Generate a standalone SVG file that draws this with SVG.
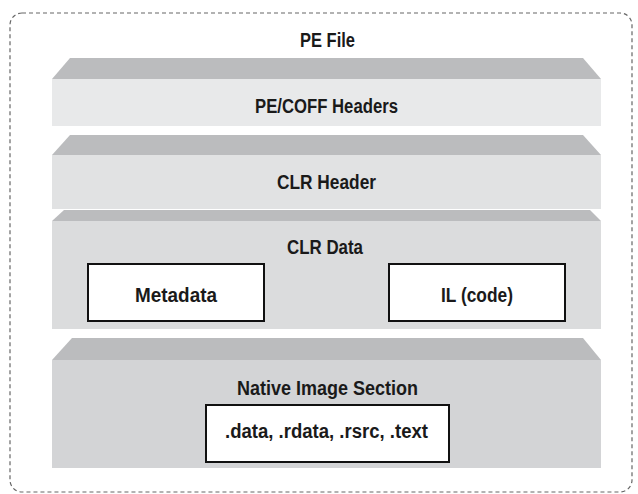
<svg xmlns="http://www.w3.org/2000/svg" width="638" height="494" viewBox="0 0 638 494">
<style>
.t{font-family:"Liberation Sans",Arial,sans-serif;font-weight:bold;font-size:19.5px;fill:#1a1a1a;text-anchor:middle}
.bev{fill:#bbbcbe}
.box{fill:#ffffff;stroke:#111;stroke-width:2}
</style>
<rect width="638" height="494" fill="#ffffff"/>
<rect x="10" y="13" width="622" height="479" rx="12" ry="12" fill="none" stroke="#666" stroke-width="1.2" stroke-dasharray="4,3"/>
<g id="pe-file">
<text class="t" x="327.5" y="47" textLength="55" lengthAdjust="spacingAndGlyphs">PE File</text>
</g>
<g id="pe-coff-headers">
<polygon class="bev" points="52,79 70,58 583,58 601,79"/>
<rect x="52" y="79" width="549" height="47" fill="#e8e9ea"/>
<text class="t" x="326.5" y="113" textLength="143" lengthAdjust="spacingAndGlyphs">PE/COFF Headers</text>
</g>
<g id="clr-header">
<polygon class="bev" points="52,155 70,135 583,135 601,155"/>
<rect x="52" y="155" width="549" height="54" fill="#e1e2e3"/>
<text class="t" x="326.5" y="189" textLength="99" lengthAdjust="spacingAndGlyphs">CLR Header</text>
</g>
<g id="clr-data">
<polygon class="bev" points="52,221 64,210 590,210 601,221"/>
<rect x="52" y="221" width="549" height="108" fill="#dbdcdd"/>
<text class="t" x="325" y="254" textLength="76" lengthAdjust="spacingAndGlyphs">CLR Data</text>
</g>
<g id="metadata">
<rect class="box" x="88" y="264" width="176" height="57"/>
<text class="t" x="176" y="302" textLength="82" lengthAdjust="spacingAndGlyphs">Metadata</text>
</g>
<g id="il-code">
<rect class="box" x="389" y="264" width="176" height="57"/>
<text class="t" x="477" y="302" textLength="72" lengthAdjust="spacingAndGlyphs">IL (code)</text>
</g>
<g id="native-image-section">
<polygon class="bev" points="52,360 72,338 583,338 601,360"/>
<rect x="52" y="360" width="549" height="108" fill="#d3d4d6"/>
<text class="t" x="327.5" y="395" textLength="181" lengthAdjust="spacingAndGlyphs">Native Image Section</text>
</g>
<g id="sections">
<rect class="box" x="206" y="405" width="243" height="57"/>
<text class="t" x="326.5" y="438" textLength="203" lengthAdjust="spacingAndGlyphs">.data, .rdata, .rsrc, .text</text>
</g>
<g id="connectors"></g>
</svg>
